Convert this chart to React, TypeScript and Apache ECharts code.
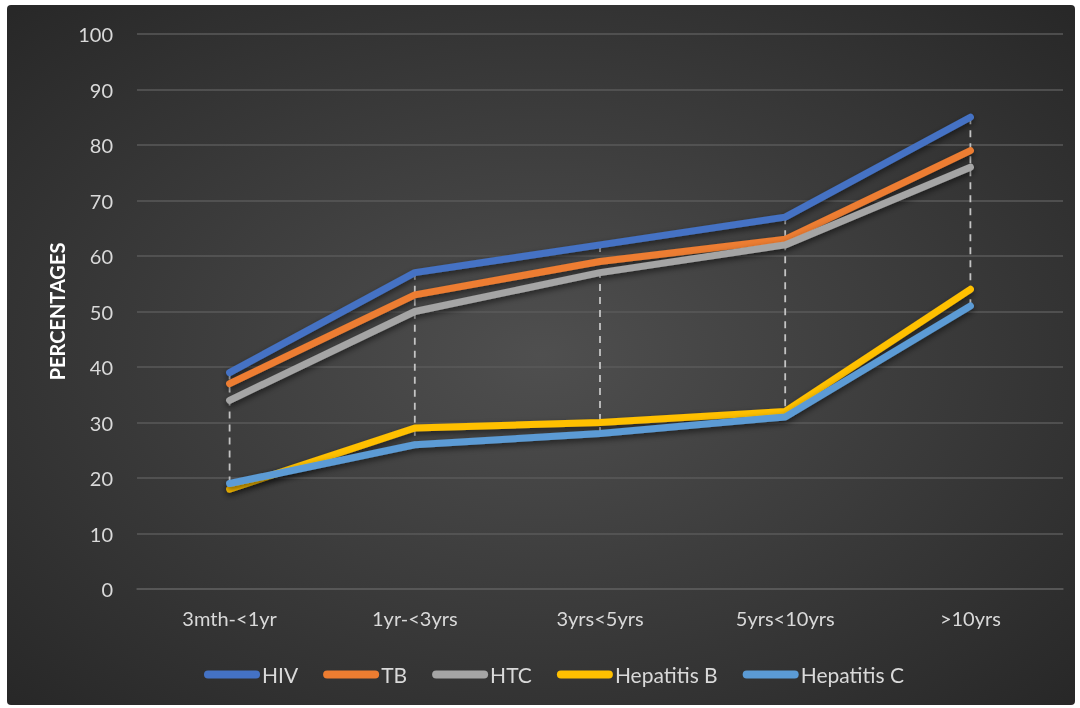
import React, { useEffect, useRef } from "react";
import * as echarts from "echarts";

const categories = ["3mth-<1yr", "1yr-<3yrs", "3yrs<5yrs", "5yrs<10yrs", ">10yrs"];
const seriesNames = ["HIV", "TB", "HTC", "Hepatitis B", "Hepatitis C"];
const hiv = [39, 57, 62, 67, 85];
const tb = [37, 53, 59, 63, 79];
const htc = [34, 50, 57, 62, 76];
const hepB = [18, 29, 30, 32, 54];
const hepC = [19, 26, 28, 31, 51];
const colors = ["#4472C4", "#ED7D31", "#A5A5A5", "#FFC000", "#5B9BD5"];
const yTicks = { min: 0, max: 100, interval: 10 };

const FONT = "Lato, 'Open Sans', sans-serif";

export default function App() {
  const ref = useRef<HTMLDivElement>(null);
  useEffect(() => {
    if (!ref.current) return;
    const chart = echarts.init(ref.current, undefined, { renderer: "svg" });
    const all = [hiv, tb, htc, hepB, hepC];
    const dropData = categories.map((_, i) => {
      const vals = all.map((s) => s[i]);
      return [i, Math.max(...vals), Math.min(...vals)];
    });
    const lineSeries = all.map((data, k) => ({
      name: seriesNames[k],
      type: "line",
      data,
      showSymbol: false,
      symbol: "none",
      z: 3,
      color: colors[k],
      lineStyle: {
        width: 7,
        color: colors[k],
        cap: "round",
        join: "round",
        shadowColor: "rgba(0,0,0,0.55)",
        shadowBlur: 6,
        shadowOffsetY: 3,
      },
    }));
    chart.setOption({
      animation: false,
      backgroundColor: {
        type: "radial",
        x: 0.5,
        y: 0.5,
        r: 0.75,
        colorStops: [
          { offset: 0, color: "#4f4f4f" },
          { offset: 1, color: "#252525" },
        ],
      },
      textStyle: { fontFamily: FONT },
      grid: { left: 130, right: 12, top: 29, bottom: 116, containLabel: false },
      legend: {
        data: seriesNames,
        left: 192,
        top: 654,
        itemWidth: 56,
        itemHeight: 8,
        itemGap: 25,
        icon: "path://M4,0 L52,0 A4,4 0 0 1 52,8 L4,8 A4,4 0 0 1 4,0 Z",
        textStyle: { color: "#d9d9d9", fontSize: 21, fontFamily: FONT, padding: [0, 0, 0, -3] },
      },
      xAxis: {
        type: "category",
        data: categories,
        boundaryGap: true,
        axisLine: { show: true, lineStyle: { color: "#5a5a5a", width: 1.5 } },
        axisTick: { show: false },
        axisLabel: { color: "#d9d9d9", fontSize: 20, margin: 19, fontFamily: FONT },
      },
      yAxis: {
        type: "value",
        min: yTicks.min,
        max: yTicks.max,
        interval: yTicks.interval,
        name: "PERCENTAGES",
        nameLocation: "middle",
        nameGap: 70,
        nameTextStyle: { color: "#ffffff", fontSize: 20, fontWeight: "bold", fontFamily: FONT },
        axisLine: { show: false },
        axisTick: { show: false },
        axisLabel: { color: "#d9d9d9", fontSize: 20, margin: 24, fontFamily: FONT },
        splitLine: { lineStyle: { color: "#5a5a5a", width: 1.5 } },
      },
      series: [
        {
          type: "custom",
          z: 1,
          silent: true,
          data: dropData,
          encode: { x: 0, y: [1, 2] },
          renderItem: (params: any, api: any) => {
            const p1 = api.coord([api.value(0), api.value(1)]);
            const p2 = api.coord([api.value(0), api.value(2)]);
            return {
              type: "line",
              shape: { x1: p1[0], y1: p1[1], x2: p2[0], y2: p2[1] },
              style: { stroke: "#c4c4c4", lineWidth: 1.8, lineDash: [7, 6] },
            };
          },
        },
        ...lineSeries,
      ],
    });
    return () => chart.dispose();
  }, []);
  return (
    <div
      ref={ref}
      style={{
        position: "fixed",
        left: 7,
        top: 5,
        width: 1068,
        height: 700,
        borderRadius: 4,
        overflow: "hidden",
      }}
    />
  );
}
